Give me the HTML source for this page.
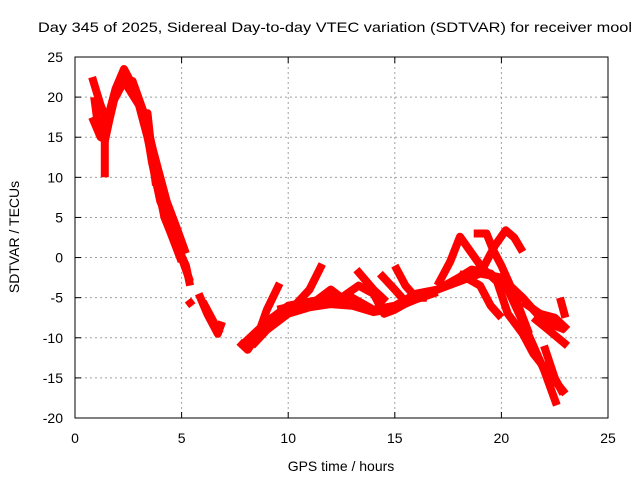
<!DOCTYPE html>
<html><head><meta charset="utf-8"><style>
body{margin:0;background:#fff}
svg{display:block;font-family:"Liberation Sans",Arial,sans-serif}
</style></head><body>
<svg id="chart" width="640" height="480" viewBox="0 0 640 480">
<text x="38" y="32" font-size="14" textLength="594" lengthAdjust="spacingAndGlyphs">Day 345 of 2025, Sidereal Day-to-day VTEC variation (SDTVAR) for receiver mool</text>
<g id="grid"></g>
<g id="series"></g>
<rect x="75" y="57" width="533" height="361" fill="none" stroke="#000" stroke-width="1"/>
<g id="ticks"></g>
<text x="341" y="471" font-size="14" text-anchor="middle">GPS time / hours</text>
<text x="0" y="0" font-size="14" text-anchor="middle" transform="translate(19,237) rotate(-90)">SDTVAR / TECUs</text>
</svg>
<script>
const xTicks=[0,5,10,15,20,25];
const yTicks=[25,20,15,10,5,0,-5,-10,-15,-20];
const s1=[[0.8,22.5],[1.2,19],[1.5,17],[1.9,21],[2.3,23.5],[2.8,21],[3.3,17],[3.6,12],[4.0,7],[4.5,4],[5.0,0],[5.4,-3]];
const s2=[[0.8,17.5],[1.2,15],[1.5,16],[1.8,19.5],[2.3,22],[3.0,19],[3.4,15],[3.8,10],[4.2,5],[4.7,2],[5.2,-1],[5.4,-3.5]];
const s3=[[0.9,20],[1.1,16],[1.4,14.5],[1.6,17],[2.0,21.5],[2.7,22],[3.3,17.5],[3.6,14],[3.9,9.5],[4.2,5],[4.5,3],[5.0,-0.5]];
const s4=[[1.4,18],[1.4,10]];
const s5=[[3.0,17.5],[3.4,18],[3.6,13],[3.8,9]];
const s6=[[5.3,-5.3],[5.5,-6]];
const s7=[[5.8,-4.5],[6.2,-7],[6.7,-9.5],[6.9,-8]];
const s8=[[7.7,-10.5],[8.1,-11.5],[8.6,-9.5],[9.0,-6.5],[9.6,-3.2]];
const s9=[[7.8,-11],[9,-8],[10,-6],[11,-5.5],[12,-5],[13,-5],[14,-6.5],[15,-6],[16,-4.5],[17,-4],[18,-3],[19,-2],[20,-2.5],[21,-5],[22,-8],[23,-9]];
const s10=[[9.5,-6.5],[10.3,-6],[11,-4],[11.6,-0.8]];
const s11=[[10,-6.5],[11,-6],[12,-4],[12.5,-5],[13.3,-3.5],[14,-4.5],[14.5,-7],[15,-6.5],[16,-5],[17,-4],[18,-2.5],[18.6,-1.5],[19.5,-2],[20.3,-4],[21,-8],[21.5,-11],[22,-14],[22.6,-18.4]];
const s12=[[13.2,-1.5],[14,-4],[14.6,-5.5]];
const s13=[[14.3,-2],[15,-4],[15.5,-5.5]];
const s14=[[15,-1],[15.5,-3.5],[16,-5],[16.5,-5]];
const s15=[[17,-3.5],[17.6,-0.5],[18.06,2.6],[19.1,-1.3],[19.8,-3],[20.3,-7],[21,-9.5],[21.5,-12],[22.1,-14],[23,-17]];
const s16=[[18.7,3],[19.3,3],[19.6,1],[20,-1],[20.5,-4],[21.3,-9.5]];
const s17=[[19.1,-1.5],[19.7,1.5],[20.2,3.4],[20.6,2.5],[21.0,0.7]];
const s18=[[18,-2],[19,-3.5],[19.5,-6],[20,-7.5]];
const s19=[[22.75,-5],[23,-7.5]];
const s20=[[21,-5.5],[21.8,-7],[22.5,-7.5],[23.1,-9]];
const s21=[[21.5,-7.5],[22.2,-9],[23.1,-11]];
const s22=[[3.2,17],[3.5,15],[3.9,11],[4.3,7],[4.8,3.5],[5.2,0.5]];
const s23=[[6.0,-5.5],[6.4,-7.5],[6.8,-9.5]];
const s24=[[8.3,-11],[9,-9],[10,-7],[11,-6.2],[12,-5.8],[13,-6],[14,-6.8],[15,-6.3],[16,-5.2],[17,-4.3]];
const s25=[[22.0,-11],[22.5,-15],[22.9,-17]];
const allSeries=[s1,s2,s3,s4,s5,s6,s7,s8,s9,s10,s11,s12,s13,s14,s15,s16,s17,s18,s19,s20,s21,s22,s23,s24,s25];
const NS="http://www.w3.org/2000/svg";
const X0=75,X1=608,Y0=418,Y1=57;
function sx(t){return X0+(t-0)/(25-0)*(X1-X0);}
function sy(v){return Y0-(v-(-20))/(25-(-20))*(Y0-Y1);}
const grid=document.getElementById('grid'),ticks=document.getElementById('ticks'),ser=document.getElementById('series');
function mk(tag,attrs,parent){const e=document.createElementNS(NS,tag);for(const k in attrs)e.setAttribute(k,attrs[k]);parent.appendChild(e);return e;}
xTicks.forEach(t=>{const x=sx(t);
 if(t>0&&t<25){const g=mk('line',{x1:x,x2:x,y1:Y1,y2:Y0,stroke:'#a0a0a0','stroke-dasharray':'2,3'},grid);
 
 }
 const a=mk('line',{x1:x,x2:x,y1:Y0,y2:Y0-6,stroke:'#000'},ticks);
 
 
 const b=mk('line',{x1:x,x2:x,y1:Y1,y2:Y1+6,stroke:'#000'},ticks);
 
 
 const l=mk('text',{x:x,y:443,'font-size':14,'text-anchor':'middle'},ticks);l.textContent=t;
 
 });
yTicks.forEach(v=>{const y=sy(v);
 if(v>-20&&v<25){const g=mk('line',{x1:X0,x2:X1,y1:y,y2:y,stroke:'#a0a0a0','stroke-dasharray':'2,3'},grid);
 
 }
 const a=mk('line',{x1:X0,x2:X0+6,y1:y,y2:y,stroke:'#000'},ticks);
 
 
 const b=mk('line',{x1:X1,x2:X1-6,y1:y,y2:y,stroke:'#000'},ticks);
 
 
 const l=mk('text',{x:63,y:y+5,'font-size':14,'text-anchor':'end'},ticks);l.textContent=v;
 
 });
allSeries.forEach(s=>{const pts=s.map(p=>sx(p[0]).toFixed(1)+','+sy(p[1]).toFixed(1)).join(' ');
 const pl=mk('polyline',{points:pts,fill:'none',stroke:'#ff0000','stroke-width':8,'stroke-linejoin':'round','stroke-linecap':'butt'},ser);
 
 });
</script>
</body></html>
